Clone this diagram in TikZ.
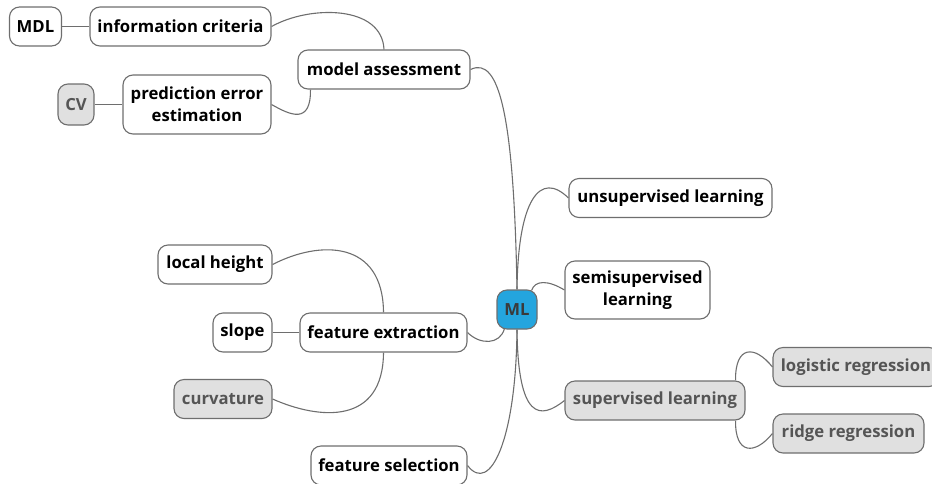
\documentclass[tikz,border=0pt]{standalone}
\usepackage{fontspec}
\setmainfont{Open Sans}
\usetikzlibrary{backgrounds}
\definecolor{edge}{HTML}{6E6E6E}
\definecolor{rootblue}{HTML}{24A5DE}
\definecolor{leafgray}{HTML}{E0E0E0}
\definecolor{graytext}{HTML}{555555}
\definecolor{roottext}{HTML}{3A3A3A}
\begin{document}
\begin{tikzpicture}[x=1pt,y=-1pt,
  topic/.style={draw=edge, line width=1.1pt, rounded corners=10pt, fill=white,
    font=\bfseries\fontsize{16.7}{22}\selectfont, align=center, inner sep=0pt,
    text=black, minimum height=39pt},
  greytopic/.style={topic, fill=leafgray, text=graytext},
  roottopic/.style={topic, fill=rootblue, text=roottext},
  link/.style={draw=edge, line width=1.1pt}]
\useasboundingbox (0,0) rectangle (932,483);

% central topic
\node[roottopic, minimum width=40pt] (ml) at (517,309.5) {ML};

% upper left branch
\node[topic, minimum width=172pt] (assess) at (384,69.5) {model assessment};
\node[topic, minimum width=181pt] (info) at (180.5,26.5) {information criteria};
\node[topic, minimum width=52pt] (mdl) at (35.5,26.5) {MDL};
\node[topic, minimum width=148pt, minimum height=59pt] (pred) at (197,104.5) {prediction error\\estimation};
\node[greytopic, minimum width=36pt, minimum height=41pt] (cv) at (76,104.5) {CV};

% lower left branch
\node[topic, minimum width=167pt] (fext) at (383.5,332.5) {feature extraction};
\node[topic, minimum width=114pt] (height) at (215,264.5) {local height};
\node[topic, minimum width=59pt] (slope) at (242.5,332.5) {slope};
\node[greytopic, minimum width=98pt] (curv) at (223,399) {curvature};
\node[topic, minimum width=156pt] (fsel) at (389,465.5) {feature selection};

% right branch
\node[topic, minimum width=203pt] (unsup) at (670.5,198) {unsupervised learning};
\node[topic, minimum width=145pt, minimum height=58pt] (semi) at (637.5,290) {semisupervised\\learning};
\node[greytopic, minimum width=180pt] (sup) at (655,400.5) {supervised learning};
\node[greytopic, minimum width=166pt] (logit) at (856,367) {logistic regression};
\node[greytopic, minimum width=151pt] (ridge) at (848.5,433.5) {ridge regression};

% connectors, kept behind the boxes
\begin{scope}[on background layer]
\draw[link] (ml.north) .. controls (514,120) and (500,55) .. (assess.east);
\draw[link] (ml.north) .. controls (518,200) and (540,170) .. (unsup.west);
\draw[link] (ml.north east) ++(-6,1) .. controls (535,280) and (548,280) .. (semi.west);
\draw[link] (ml.south west) ++(8,-1) .. controls (500,345) and (480,345) .. (fext.east);
\draw[link] (ml.south) .. controls (518,420) and (540,420) .. (sup.west);
\draw[link] (ml.south) .. controls (516,440) and (490,495) .. (fsel.east);

\draw[link] (assess.north) .. controls (382,5) and (310,5) .. (info.east);
\draw[link] (assess.south west) ++(13,0) .. controls (311,125) and (290,115) .. (pred.east);
\draw[link] (mdl) -- (info);
\draw[link] (cv) -- (pred);

\draw[link] (fext.north) .. controls (383,240) and (320,240) .. (height.east);
\draw[link] (slope) -- (fext);
\draw[link] (fext.south) .. controls (383,425) and (320,420) .. (curv.east);

\draw[link] (sup.north east) ++(-10,0) .. controls (735,345) and (755,345) .. (logit.west);
\draw[link] (sup.south east) ++(-10,0) .. controls (735,455) and (755,455) .. (ridge.west);
\end{scope}
\end{tikzpicture}
\end{document}
